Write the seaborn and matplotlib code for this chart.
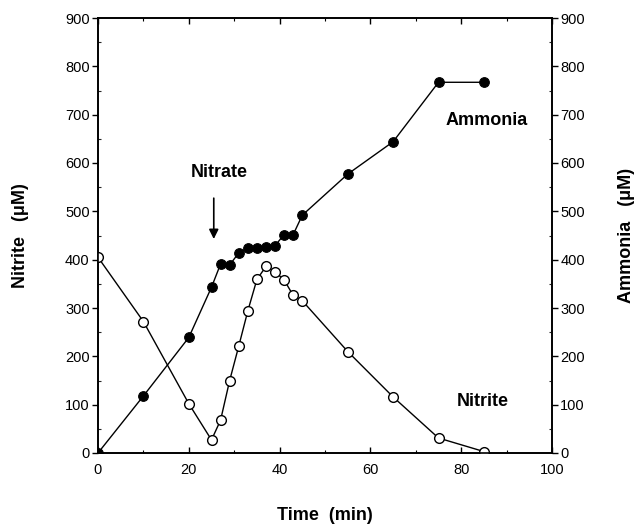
import matplotlib
matplotlib.use("Agg")
import matplotlib.pyplot as plt
import seaborn as sns
import pandas as pd
from matplotlib.ticker import MultipleLocator

sns.set_theme(style="ticks")
plt.rcParams['font.family'] = ['Liberation Sans', 'DejaVu Sans']
plt.rcParams['text.color'] = 'black'
plt.rcParams['axes.labelcolor'] = 'black'

# Data
amm_time = [0, 10, 20, 25, 27, 29, 31, 33, 35, 37, 39, 41, 43, 45, 55, 65, 75, 85]
ammonia = [0, 118, 239, 343, 391, 389, 414, 424, 424, 427, 429, 452, 452, 492, 577, 644, 767, 767]
nit_time = [0, 10, 20, 25, 27, 29, 31, 33, 35, 37, 39, 41, 43, 45, 55, 65, 75, 85]
nitrite = [405, 272, 102, 27, 68, 150, 221, 294, 359, 386, 375, 358, 326, 315, 210, 116, 31, 3]

df_a = pd.DataFrame({"Time": amm_time, "Ammonia": ammonia})
df_n = pd.DataFrame({"Time": nit_time, "Nitrite": nitrite})

fig = plt.figure(figsize=(6.41, 5.27), dpi=100)
ax = fig.add_axes([98/641, 1-453/527, (552-98)/641, (453-18)/527])

sns.lineplot(data=df_a, x="Time", y="Ammonia", ax=ax, color="black", lw=1,
             marker="o", markersize=7, markerfacecolor="black",
             markeredgecolor="black", zorder=3)
sns.lineplot(data=df_n, x="Time", y="Nitrite", ax=ax, color="black", lw=1,
             marker="o", markersize=7, markerfacecolor="white",
             markeredgecolor="black", markeredgewidth=1, zorder=3)

ax.set_xlim(0, 100)
ax.set_ylim(0, 900)
ax.xaxis.set_major_locator(MultipleLocator(20))
ax.xaxis.set_minor_locator(MultipleLocator(10))
ax.yaxis.set_major_locator(MultipleLocator(100))
ax.yaxis.set_minor_locator(MultipleLocator(50))
for s in ax.spines.values():
    s.set_color("black")
    s.set_linewidth(1.2)

ax.tick_params(axis="x", which="both", direction="in", top=True, bottom=True,
               labelsize=10.5, colors="black", pad=7)
ax.tick_params(axis="x", which="major", length=4, width=1)
ax.tick_params(axis="x", which="minor", length=2.5, width=0.8)
ax.tick_params(axis="y", which="major", direction="out", length=4, width=1,
               labelsize=10.5, colors="black", pad=2)
ax.tick_params(axis="y", which="minor", direction="in", length=2.5, width=0.8)

ax.set_xlabel("Time  (min)", fontsize=13, fontweight="bold", labelpad=22, color="black")
ax.set_ylabel("Nitrite   (\u03bcM)", fontsize=13, fontweight="bold", labelpad=26, color="black")

ax2 = ax.twinx()
ax2.set_ylim(0, 900)
ax2.yaxis.set_major_locator(MultipleLocator(100))
ax2.yaxis.set_minor_locator(MultipleLocator(50))
ax2.tick_params(axis="y", which="major", direction="out", length=4, width=1,
                labelsize=10.5, colors="black", pad=2)
ax2.tick_params(axis="y", which="minor", direction="in", length=2.5, width=0.8)
ax2.set_ylabel("Ammonia   (\u03bcM)", fontsize=13, fontweight="bold", labelpad=24, color="black")
for s in ax2.spines.values():
    s.set_color("black")
    s.set_linewidth(1.2)

ax.text(26.8, 580, "Nitrate", fontsize=13, fontweight="bold", ha="center", va="center", color="black")
ax.text(85.6, 688, "Ammonia", fontsize=13, fontweight="bold", ha="center", va="center", color="black")
ax.text(84.7, 107, "Nitrite", fontsize=13, fontweight="bold", ha="center", va="center", color="black")
ax.annotate("", xy=(25.5, 437), xytext=(25.5, 533),
            arrowprops=dict(arrowstyle="-|>", color="black", lw=1.2,
                            mutation_scale=14))

fig.savefig("out.png", dpi=100, facecolor="white")
